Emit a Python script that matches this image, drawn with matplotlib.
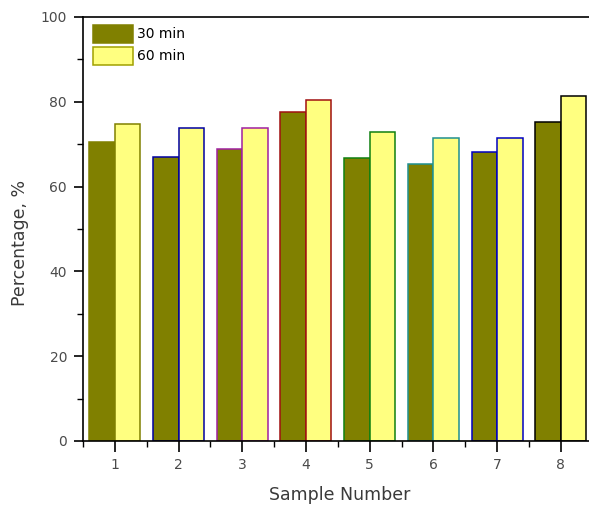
import matplotlib
matplotlib.use("Agg")
import matplotlib.pyplot as plt
import numpy as np
from matplotlib.ticker import MultipleLocator

# values
samples = [1, 2, 3, 4, 5, 6, 7, 8]
pct_30min = [70.5, 67.0, 68.9, 77.6, 66.7, 65.3, 68.2, 75.2]
pct_60min = [74.8, 73.8, 73.8, 80.4, 72.9, 71.5, 71.5, 81.4]
edge_colors = ["#808000", "#0000a0", "#a020a0", "#a01010",
               "#108010", "#209090", "#0000c0", "#000000"]

plt.rcParams["font.family"] = ["DejaVu Sans"]

W, H = 589, 512
fig = plt.figure(figsize=(W / 100, H / 100), dpi=100)
# plot frame runs past the right edge of the picture, like the original export
ax = fig.add_axes([83 / W, 71 / H, 509.6 / W, 424 / H])

x = np.array(samples)
w = 0.4
ax.bar(x - w / 2, pct_30min, width=w, color="#808000",
       edgecolor=edge_colors, linewidth=1.1, label="30 min")
ax.bar(x + w / 2, pct_60min, width=w, color="#ffff80",
       edgecolor=edge_colors, linewidth=1.1, label="60 min")

ax.set_xlim(0.5, 8.5)
ax.set_ylim(0, 100)
ax.set_xticks(samples)
ax.xaxis.set_minor_locator(MultipleLocator(0.5))
ax.yaxis.set_major_locator(MultipleLocator(20))
ax.yaxis.set_minor_locator(MultipleLocator(10))

ax.spines["right"].set_visible(False)
for s in ["left", "bottom", "top"]:
    ax.spines[s].set_linewidth(1.2)
ax.tick_params(which="major", direction="out", width=1.2,
               labelsize=10, labelcolor="#4a4a4a", top=False, right=False)
ax.tick_params(axis="x", which="major", length=8, pad=4)
ax.tick_params(axis="y", which="major", length=6.5, pad=5)
ax.tick_params(which="minor", direction="out", length=4, width=1.0,
               top=False, right=False)

fig.text(340 / W, 1 - 495 / H, "Sample Number", fontsize=12.5,
         color="#3a3a3a", ha="center", va="center")
fig.text(20 / W, 1 - 243 / H, "Percentage, %", fontsize=12.5,
         color="#3a3a3a", ha="center", va="center", rotation=90)

fs = 10
leg = ax.legend(loc="upper left", frameon=False, fontsize=fs,
                handlelength=40 / (fs * 100 / 72), handleheight=1.6,
                handletextpad=0.3, labelspacing=0.3,
                borderpad=0, borderaxespad=0,
                bbox_to_anchor=(10 / 509.6, 1 - 8 / 424))
leg.legend_handles[0].set_edgecolor("#808000")
leg.legend_handles[1].set_edgecolor("#a0a000")

fig.savefig("out.png", dpi=100)
